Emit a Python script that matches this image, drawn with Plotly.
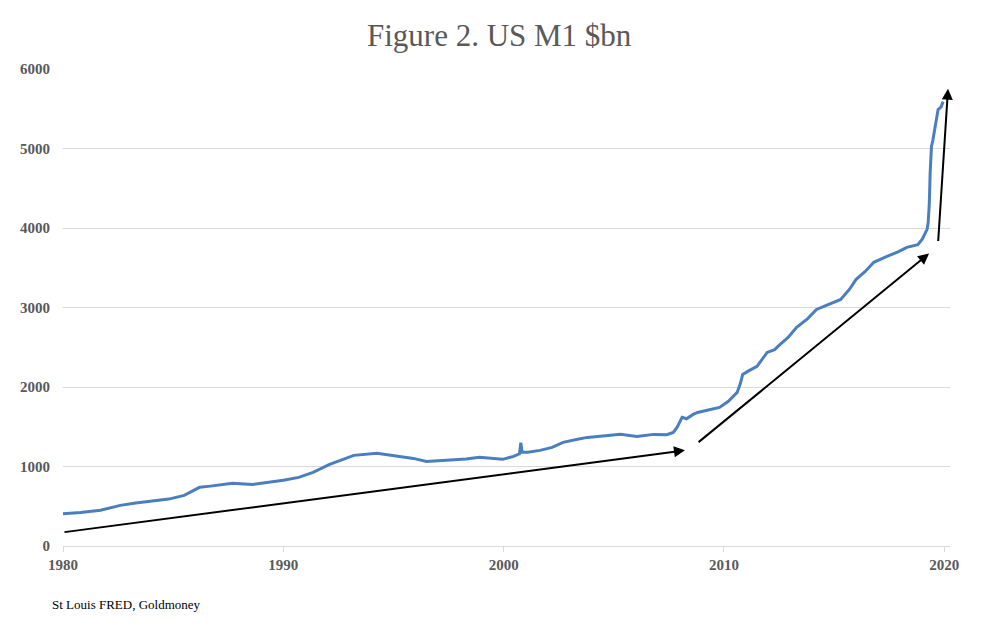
import plotly.graph_objects as go

# M1 series (decimal year as positioned on the chart, $bn)
years = [1980.0, 1980.8, 1981.7, 1982.6, 1983.3, 1984.1, 1984.8, 1985.5, 1986.2, 1986.6, 1987.7,
         1988.6, 1989.3, 1990.0, 1990.7, 1991.35, 1992.1, 1992.6, 1993.2, 1994.25, 1995.0,
         1995.9, 1996.5, 1997.4, 1998.3, 1998.9, 1999.5, 1999.95, 2000.45, 2000.72, 2000.78,
         2000.84, 2001.1, 2001.65, 2002.2, 2002.7, 2003.3, 2003.8, 2004.5, 2005.3, 2006.05,
         2006.8, 2007.4, 2007.7, 2007.87, 2008.0, 2008.1, 2008.3, 2008.6, 2008.8, 2009.3,
         2009.8, 2010.2, 2010.6, 2010.75, 2010.85, 2011.1, 2011.5, 2011.96, 2012.3, 2012.55,
         2012.9, 2013.3, 2013.8, 2014.2, 2014.7, 2015.3, 2015.7, 2016.0, 2016.4, 2016.8,
         2017.4, 2017.9, 2018.3, 2018.8, 2019.0, 2019.22, 2019.27, 2019.32, 2019.36, 2019.42,
         2019.48, 2019.58, 2019.72, 2019.85, 2019.95]
m1 = [405, 420, 449, 511, 540, 562, 590, 637, 738, 750, 788,
      775, 800, 826, 863, 926, 1027, 1080, 1140, 1165, 1140,
      1102, 1064, 1077, 1095, 1115, 1105, 1090, 1127, 1160, 1300,
      1180, 1178, 1203, 1240, 1303, 1340, 1366, 1385, 1404, 1379,
      1404, 1400, 1429, 1492, 1560, 1618, 1600, 1655, 1680, 1710,
      1743, 1820, 1932, 2050, 2158, 2200, 2259, 2435, 2470, 2536,
      2620, 2750, 2860, 2976, 3030, 3102, 3230, 3354, 3450, 3568,
      3643, 3700, 3756, 3790, 3860, 3983, 4071, 4300, 4700, 5026,
      5100, 5277, 5490, 5520, 5590]

# Trend arrows: (tail_year, tail_value, head_year, head_value)
arrow_tail_x = [1980.0, 2008.78, 2019.72]
arrow_tail_y = [172, 1291, 3817]
arrow_head_x = [2008.23, 2019.31, 2020.17]
arrow_head_y = [1203, 3679, 5752]

x_ticks = [1980, 1990, 2000, 2010, 2020]
y_ticks = [0, 1000, 2000, 3000, 4000, 5000, 6000]

fig = go.Figure()
fig.add_trace(go.Scatter(x=years, y=m1, mode="lines",
                         line=dict(color="#4a7ebf", width=3), showlegend=False,
                         hoverinfo="skip"))

for tx, ty, hx, hy in zip(arrow_tail_x, arrow_tail_y, arrow_head_x, arrow_head_y):
    fig.add_annotation(x=hx, y=hy, ax=tx, ay=ty, xref="x", yref="y", axref="x", ayref="y",
                       showarrow=True, arrowhead=2, arrowsize=1.1, arrowwidth=2,
                       arrowcolor="#000000", text="")

fig.add_annotation(text="St Louis FRED, Goldmoney", xref="paper", yref="paper",
                   x=-0.0147, y=-0.1216, xanchor="left", yanchor="middle", showarrow=False,
                   font=dict(family="Liberation Serif", size=13, color="#000000"))

fig.update_layout(
    width=965, height=621,
    margin=dict(l=55, r=23, t=61, b=83),
    paper_bgcolor="white", plot_bgcolor="white",
    title=dict(text="Figure 2. US M1 $bn", x=0.509, xanchor="center", y=0.957, yanchor="middle",
               font=dict(family="Liberation Serif", size=31, color="#595959")),
    xaxis=dict(range=[1980, 2020.26], tickvals=x_ticks, ticktext=[str(v) for v in x_ticks],
               showgrid=False, zeroline=False, showline=True, linecolor="#d9d9d9", linewidth=1,
               ticks="outside", ticklen=5, tickcolor="#d9d9d9",
               tickfont=dict(family="Liberation Serif", size=15, color="#595959", weight="bold")),
    yaxis=dict(range=[0, 6000], tickvals=y_ticks, showgrid=True, gridcolor="#d9d9d9",
               gridwidth=1, zeroline=False, showline=False, ticks="",
               ticklabelstandoff=12,
               tickfont=dict(family="Liberation Serif", size=15, color="#595959", weight="bold")),
)

fig.write_html("out.html")
